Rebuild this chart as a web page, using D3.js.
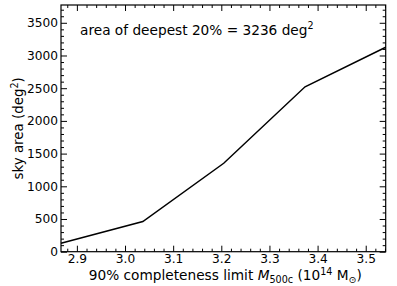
<!DOCTYPE html>
<html><head><meta charset="utf-8">
<script src="https://cdn.jsdelivr.net/npm/d3@7"></script>
<style>body{margin:0;background:#fff}svg{display:block}text{font-family:"DejaVu Sans",sans-serif;fill:#000}</style>
</head><body><svg id="c" width="397" height="286"></svg>
<script>
const massLimit = [2.867, 3.037, 3.205, 3.374, 3.5415];
const skyArea = [128, 462, 1352, 2522, 3126];
const xTicks = [2.9, 3.0, 3.1, 3.2, 3.3, 3.4, 3.5];
const yTicks = [0, 500, 1000, 1500, 2000, 2500, 3000, 3500];

const svg = d3.select("#c");
const L = 61, R = 385.7, T = 5, B = 251.7;
const x = d3.scaleLinear().domain([2.867, 3.5415]).range([L, R]);
const y = d3.scaleLinear().domain([0, 3772]).range([B, T]);

const xMinor = d3.range(2.88, 3.5415, 0.02).filter(v => Math.abs(v*10 - Math.round(v*10)) > 1e-6);
const yMinor = d3.range(100, 3772, 100).filter(v => v % 500 !== 0);

function addAxis(axisGen, tr, showLabels) {
  const g = svg.append("g").attr("transform", tr).call(axisGen);
  g.select(".domain").remove();
  g.selectAll("line").attr("stroke", "#000").attr("stroke-width", 1);
  g.selectAll("text").style("font-size", "12.2px").style("font-family", "DejaVu Sans");
  if (!showLabels) g.selectAll("text").remove();
  return g;
}
// bottom
addAxis(d3.axisBottom(x).tickValues(xTicks).tickFormat(d3.format(".1f")).tickSizeInner(-6).tickPadding(3), `translate(0,${B})`, true);
addAxis(d3.axisBottom(x).tickValues(xMinor).tickSizeInner(-3), `translate(0,${B})`, false);
// top
addAxis(d3.axisTop(x).tickValues(xTicks).tickSizeInner(-6), `translate(0,${T})`, false);
addAxis(d3.axisTop(x).tickValues(xMinor).tickSizeInner(-3), `translate(0,${T})`, false);
// left
addAxis(d3.axisLeft(y).tickValues(yTicks).tickFormat(d3.format("d")).tickSizeInner(-6).tickPadding(3), `translate(${L},0)`, true);
addAxis(d3.axisLeft(y).tickValues(yMinor).tickSizeInner(-3), `translate(${L},0)`, false);
// right
addAxis(d3.axisRight(y).tickValues(yTicks).tickSizeInner(-6), `translate(${R},0)`, false);
addAxis(d3.axisRight(y).tickValues(yMinor).tickSizeInner(-3), `translate(${R},0)`, false);

svg.append("rect").attr("x", L).attr("y", T).attr("width", R - L).attr("height", B - T)
  .attr("fill", "none").attr("stroke", "#000").attr("stroke-width", 1.2);

const line = d3.line().x((d, i) => x(massLimit[i])).y(d => y(d));
svg.append("path").datum(skyArea).attr("d", line).attr("fill", "none")
  .attr("stroke", "#000").attr("stroke-width", 1.5);

const FS = "13.7px", SS = "9.6px";
// annotation
const ann = svg.append("text").attr("x", 80).attr("y", 34.5).style("font-size", FS);
ann.append("tspan").text("area of deepest 20% = 3236 deg");
ann.append("tspan").attr("dy", -5.5).style("font-size", SS).text("2");

// x label
const xl = svg.append("text").attr("x", (L + R) / 2 + 2).attr("y", 280).attr("text-anchor", "middle").style("font-size", FS);
xl.append("tspan").text("90% completeness limit ");
xl.append("tspan").style("font-style", "italic").text("M");
xl.append("tspan").attr("dy", 3).style("font-size", SS).text("500c");
xl.append("tspan").attr("dy", -3).text(" (10");
xl.append("tspan").attr("dy", -4.8).style("font-size", SS).text("14");
xl.append("tspan").attr("dy", 4.8).text(" M");
xl.append("tspan").attr("dy", 2.5).style("font-size", SS).text("\u2299");
xl.append("tspan").attr("dy", -2.5).text(")");

// y label
const yl = svg.append("text").attr("transform", `translate(23,${(T + B) / 2}) rotate(-90)`).attr("text-anchor", "middle").style("font-size", "13.4px");
yl.append("tspan").text("sky area (deg");
yl.append("tspan").attr("dy", -5.5).style("font-size", SS).text("2");
yl.append("tspan").attr("dy", 5.5).text(")");
</script></body></html>
